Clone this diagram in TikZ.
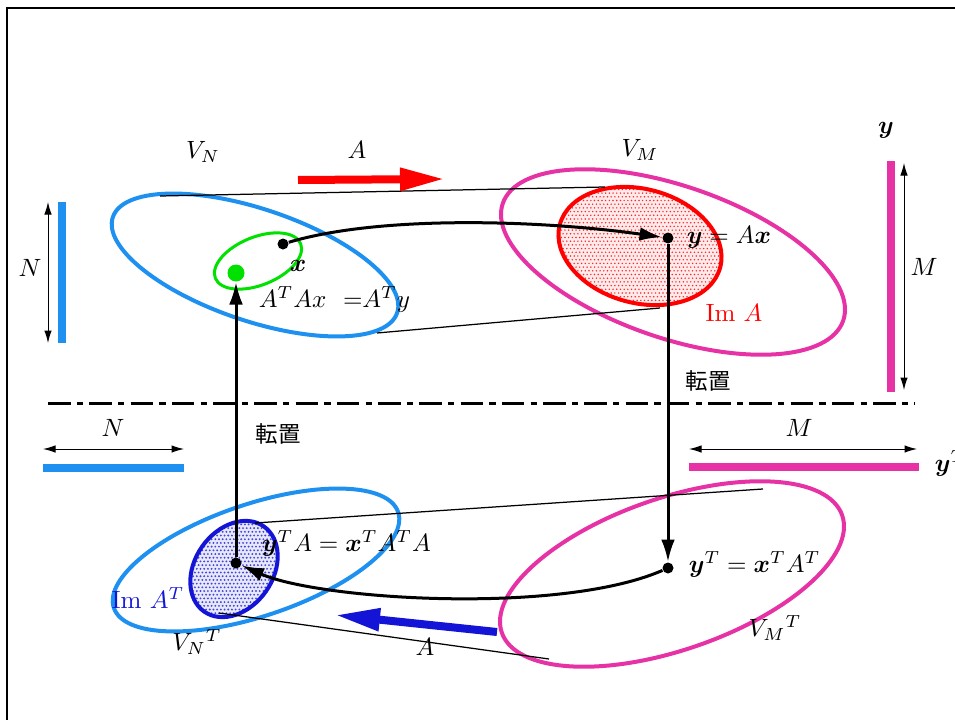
\documentclass[tikz,border=0pt]{standalone}
\usepackage{amsmath, amssymb}
\usepackage{fontspec}
\newfontfamily\jpfont{Noto Sans CJK JP}
\usepackage{xcolor}
\usepackage{tikz}
\usetikzlibrary{arrows.meta, shapes.geometric}
\definecolor{vnblue}{RGB}{30, 144, 240}
\definecolor{vmpink}{RGB}{230, 50, 165}
\definecolor{imblue}{RGB}{20, 20, 215}
\definecolor{okgreen}{RGB}{0, 225, 0}

\begin{document}
\begin{tikzpicture}[
  x=0.4pt, y=-0.4pt,
  every node/.style={font=\normalsize},
  spazio/.style={ellipse, draw, line width=1.6pt, inner sep=0pt},
  punto/.style={circle, fill=black, inner sep=0pt, minimum size=4.4pt},
  freccia/.style={-{Latex[length=9pt, width=5.5pt]}, line width=1.2pt},
  mappa/.style={-{Triangle[length=18pt, width=8.5pt]}, line width=3.2pt},
  barra/.style={line width=3.2pt},
  misura/.style={{Latex[length=5pt, width=3pt]}-{Latex[length=5pt, width=3pt]}, line width=0.4pt},
  tangente/.style={line width=0.5pt},
  trasp/.style={font=\jpfont\small}
]
\useasboundingbox (0,0) rectangle (955,720);

  % Cornice
  \draw[line width=1pt] (7,760) -- (7,8) -- (1000,8);

  % Retinatura di Im A e Im A^T
\begin{scope}
  \clip[rotate around={-15:(640,246)}] (640,246) ellipse (83 and 57);
  \fill[red!8] (550,180) rectangle (730,312);
  \foreach \i in {0,...,48} \foreach \j in {0,...,36}
    \fill[red!85] ({552+\i*3.7+mod(\j,2)*1.85}, {182+\j*3.7}) circle (0.33pt);
\end{scope}
\begin{scope}
  \clip[rotate around={55:(234,569)}] (234,569) ellipse (52 and 39);
  \fill[imblue!10] (180,515) rectangle (290,625);
  \foreach \i in {0,...,30} \foreach \j in {0,...,30}
    \fill[imblue!80] ({182+\i*3.7+mod(\j,2)*1.85}, {517+\j*3.7}) circle (0.42pt);
\end{scope}

  % Spazi (riga superiore)
\node[spazio, vnblue, minimum width=120pt, minimum height=44.8pt, rotate=-18.6] (VN) at (255,265) {};
\node[spazio, vmpink, minimum width=144pt, minimum height=60.8pt, rotate=-19] (VM) at (673,262) {};
\node[spazio, red, minimum width=66.4pt, minimum height=45.6pt, rotate=-15] (ImA) at (640,246) {};
\node[spazio, okgreen, line width=1.2pt, minimum width=36.8pt, minimum height=19.2pt, rotate=22] (xset) at (258,261) {};

  % Spazi trasposti (riga inferiore)
\node[spazio, vnblue, minimum width=120pt, minimum height=44.8pt, rotate=18.6] (VNt) at (256,560) {};
\node[spazio, vmpink, minimum width=144pt, minimum height=60.8pt, rotate=19] (VMt) at (672,574) {};
\node[spazio, imblue, minimum width=41.6pt, minimum height=31.2pt, rotate=55] (ImAt) at (234,569) {};

  % Linea di separazione
\coordinate (sepL) at (48,403);
\coordinate (sepR) at (915,403);
  \draw[line width=1.2pt, dash pattern=on 9pt off 2.5pt on 2.5pt off 2.5pt] (sepL) -- (sepR);

  % Linee tangenti
\coordinate (tA1) at (160,196);
\coordinate (tA2) at (605,187);
\coordinate (tB1) at (377,333);
\coordinate (tB2) at (660,308);
\coordinate (tC1) at (255,523);
\coordinate (tC2) at (763,489);
\coordinate (tD1) at (219,613);
\coordinate (tD2) at (549,659);
  \draw[tangente] (tA1) -- (tA2);
  \draw[tangente] (tB1) -- (tB2);
  \draw[tangente] (tC1) -- (tC2);
  \draw[tangente] (tD1) -- (tD2);

  % Barre e dimensioni
\coordinate (bN1) at (62,202);
\coordinate (bN2) at (62,343);
\coordinate (dN1) at (48,202);
\coordinate (dN2) at (48,343);
\coordinate (bM1) at (891,161);
\coordinate (bM2) at (891,392);
\coordinate (dM1) at (904,163);
\coordinate (dM2) at (904,390);
\coordinate (bNt1) at (43,468);
\coordinate (bNt2) at (184,468);
\coordinate (dNt1) at (43,449);
\coordinate (dNt2) at (184,449);
\coordinate (bMt1) at (689,467);
\coordinate (bMt2) at (919,467);
\coordinate (dMt1) at (689,449);
\coordinate (dMt2) at (917,449);
  \draw[barra, vnblue] (bN1) -- (bN2);
  \draw[barra, vmpink] (bM1) -- (bM2);
  \draw[barra, vnblue] (bNt1) -- (bNt2);
  \draw[barra, vmpink] (bMt1) -- (bMt2);
  \draw[misura] (dN1) -- (dN2);
  \draw[misura] (dM1) -- (dM2);
  \draw[misura] (dNt1) -- (dNt2);
  \draw[misura] (dMt1) -- (dMt2);

  % Frecce della mappa A
\coordinate (mA1) at (298,180);
\coordinate (mA2) at (445,179);
\coordinate (mB1) at (497,632);
\coordinate (mB2) at (335,615);
  \draw[mappa, red] (mA1) -- (mA2);
  \draw[mappa, imblue] (mB1) -- (mB2);

  % Punti
\node[punto] (x) at (283,244) {};
\node[punto] (y) at (668,238) {};
\node[punto] (yt) at (668,568) {};
\node[punto] (xtat) at (236,563) {};
\node[circle, fill=okgreen, inner sep=0pt, minimum size=6.8pt] (atax) at (236,273) {};

  % Frecce nere
  \draw[freccia] (x) .. controls (380,215) and (540,220) .. (y);
  \draw[freccia] (y) -- (yt);
  \draw[freccia] (yt) .. controls (560,615) and (320,600) .. (xtat);
  \draw[freccia] (xtat) -- (atax);

  % Etichette
\node (lVN) at (203,152) {$V_N$};
\node (lA) at (357,150) {$A$};
\node (lVM) at (640,150) {$V_M$};
\node (ly) at (886,130) {$\boldsymbol{y}$};
\node (lN) at (30,268) {$N$};
\node (lM) at (924,267) {$M$};
\node (lx) at (298,266) {$\boldsymbol{x}$};
\node[anchor=west] (lnorm) at (250,299) {$A^TAx$\ \ ${=}A^Ty$};
\node[anchor=west] (lyAx) at (678,237) {$\boldsymbol{y}=A\boldsymbol{x}$};
\node[red] (lImA) at (734,313) {$\mathrm{Im}\ A$};
\node[trasp] (ltr1) at (708,381) {転置};
\node[trasp] (ltr2) at (278,434) {転置};
\node (lNt) at (113,428) {$N$};
\node (lMt) at (799,428) {$M$};
\node[anchor=west] (lyt) at (926,463) {$\boldsymbol{y}^T$};
\node[anchor=west] (lytA) at (253,543) {$\boldsymbol{y}^TA=\boldsymbol{x}^TA^TA$};
\node[anchor=west] (lytx) at (680,564) {$\boldsymbol{y}^T=\boldsymbol{x}^TA^T$};
\node[imblue] (lImAt) at (148,598) {$\mathrm{Im}\ A^T$};
\node (lVNt) at (197,642) {$V_N{}^T$};
\node (lVMt) at (775,628) {$V_M{}^T$};
\node (lAt) at (425,647) {$A$};

\end{tikzpicture}
\end{document}
